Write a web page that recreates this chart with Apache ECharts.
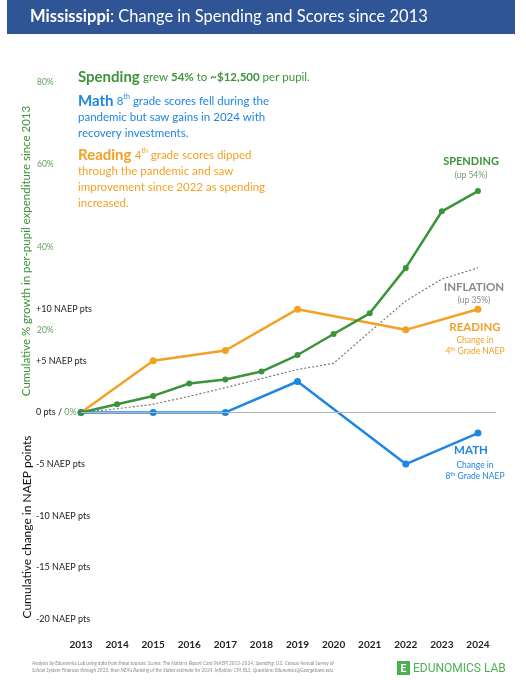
<!DOCTYPE html>
<html>
<head>
<meta charset="utf-8">
<script src="https://cdn.jsdelivr.net/npm/echarts@6/dist/echarts.min.js"></script>
<style>
  html, body { margin: 0; padding: 0; background: #fff; }
  #main { width: 526px; height: 680px; }
</style>
</head>
<body>
<div id="main"></div>
<script>
// data
var years = [2013, 2014, 2015, 2016, 2017, 2018, 2019, 2020, 2021, 2022, 2023, 2024];
var spending = [0, 2, 4, 7, 8, 9.9, 13.9, 19, 24, 35, 48.7, 53.6];
var inflation = [0, 0.9, 2, 3.9, 6, 8.2, 10.4, 11.9, 19.5, 27, 32.3, 35];
var naepYears = [2013, 2015, 2017, 2019, 2022, 2024];
var reading = [0, 5, 6, 10, 8, 10];
var math = [0, 0, 0, 3, -5, -2];
var pctTicks = [20, 40, 60, 80];
var naepTicks = [-20, -15, -10, -5, 0, 5, 10];

var GREEN = '#3a9439', ORANGE = '#f4a024', BLUE = '#1f85e3', GRAY = '#8a8a8a';
var FONT = 'Lato, "Noto Sans", sans-serif';

function pairs(xs, ys) {
  return xs.map(function (x, i) { return [x, ys[i]]; });
}

var myChart = echarts.init(document.getElementById('main'));

var option = {
  backgroundColor: '#fff',
  textStyle: { fontFamily: FONT },
  animation: false,
  grid: { left: 81, right: 30, top: 82, bottom: 61 },
  xAxis: {
    type: 'value', min: 2013, max: 2024.5, interval: 1,
    axisLine: { show: false }, axisTick: { show: false }, splitLine: { show: false },
    axisLabel: {
      margin: 21, fontSize: 10, fontWeight: 'bold', color: '#222',
      formatter: function (v) { return years.indexOf(v) >= 0 ? String(v) : ''; }
    }
  },
  yAxis: [
    {
      type: 'value', min: -50, max: 80, interval: 10, position: 'left',
      axisLine: { show: false }, axisTick: { show: false }, splitLine: { show: false },
      axisLabel: {
        align: 'left', margin: 44, fontSize: 8.5, color: '#5f9f5c',
        formatter: function (v) { return pctTicks.indexOf(v) >= 0 ? v + '%' : ''; }
      }
    },
    {
      type: 'value', min: -20, max: 32, interval: 5, position: 'left',
      axisLine: { show: false }, axisTick: { show: false }, splitLine: { show: false },
      axisLabel: {
        align: 'left', margin: 45, fontSize: 9, color: '#222',
        formatter: function (v) {
          if (naepTicks.indexOf(v) < 0) return '';
          if (v === 0) return '0 pts / {g|0%}';
          return (v > 0 ? '+' : '') + v + ' NAEP pts';
        },
        rich: { g: { color: '#5f9f5c', fontSize: 9 } }
      }
    }
  ],
  series: [
    {
      name: 'Inflation', type: 'line', yAxisIndex: 0, z: 1,
      data: pairs(years, inflation), showSymbol: false,
      lineStyle: { color: '#777', width: 1.2, type: [2, 2] },
      markLine: {
        silent: true, symbol: 'none', label: { show: false },
        lineStyle: { color: '#b5b5b5', type: 'solid', width: 1.2 },
        data: [{ yAxis: 0 }]
      }
    },
    {
      name: 'Spending', type: 'line', yAxisIndex: 0, z: 3,
      data: pairs(years, spending), symbol: 'circle', symbolSize: 6,
      lineStyle: { color: GREEN, width: 2.5 }, itemStyle: { color: GREEN }
    },
    {
      name: 'Reading', type: 'line', yAxisIndex: 1, z: 2,
      data: pairs(naepYears, reading), symbol: 'circle', symbolSize: 7,
      lineStyle: { color: ORANGE, width: 2.5 }, itemStyle: { color: ORANGE }
    },
    {
      name: 'Math', type: 'line', yAxisIndex: 1, z: 2,
      data: pairs(naepYears, math), symbol: 'circle', symbolSize: 7,
      lineStyle: { color: BLUE, width: 2.5 }, itemStyle: { color: BLUE }
    }
  ],
  graphic: [
    // title bar
    { type: 'rect', shape: { x: 7, y: 0, width: 508, height: 34 }, style: { fill: '#2f5597' } },
    {
      type: 'text', x: 30, y: 17,
      style: {
        text: '{b|Mississippi}{n|: Change in Spending and Scores since 2013}',
        verticalAlign: 'middle',
        rich: {
          b: { fontFamily: FONT, fontSize: 16.5, fontWeight: 'bold', fill: '#fff' },
          n: { fontFamily: FONT, fontSize: 16.5, fill: '#fff' }
        }
      }
    },
    // rotated axis names
    {
      type: 'text', x: 26, y: 251, rotation: Math.PI / 2,
      style: {
        text: 'Cumulative % growth in per-pupil expenditure since 2013',
        align: 'center', verticalAlign: 'middle',
        font: '11.5px ' + FONT, fill: GREEN
      }
    },
    {
      type: 'text', x: 27, y: 527, rotation: Math.PI / 2,
      style: {
        text: 'Cumulative change in NAEP points',
        align: 'center', verticalAlign: 'middle',
        font: '12px ' + FONT, fill: '#111'
      }
    },
    // annotation block
    {
      type: 'text', x: 78, y: 69,
      style: {
        text: '{h|Spending} {t|grew }{tb|54%}{t| to }{tb|~$12,500}{t| per pupil.}',
        verticalAlign: 'top',
        rich: {
          h: { fontFamily: FONT, fontSize: 15, fontWeight: 'bold', fill: GREEN, lineHeight: 16 },
          t: { fontFamily: FONT, fontSize: 11.5, fill: GREEN, lineHeight: 16 },
          tb: { fontFamily: FONT, fontSize: 11.5, fontWeight: 'bold', fill: GREEN, lineHeight: 16 }
        }
      }
    },
    {
      type: 'text', x: 78, y: 93,
      style: {
        text: '{h|Math} {t|8}{s|th}{t| grade scores fell during the}\n{t|pandemic but saw gains in 2024 with}\n{t|recovery investments.}',
        verticalAlign: 'top',
        rich: {
          h: { fontFamily: FONT, fontSize: 15, fontWeight: 'bold', fill: BLUE, lineHeight: 16 },
          t: { fontFamily: FONT, fontSize: 11.5, fill: BLUE, lineHeight: 16 },
          s: { fontFamily: FONT, fontSize: 7, fill: BLUE, verticalAlign: 'top', lineHeight: 16 }
        }
      }
    },
    {
      type: 'text', x: 78, y: 147,
      style: {
        text: '{h|Reading} {t|4}{s|th}{t| grade scores dipped}\n{t|through the pandemic and saw}\n{t|improvement since 2022 as spending}\n{t|increased.}',
        verticalAlign: 'top',
        rich: {
          h: { fontFamily: FONT, fontSize: 15, fontWeight: 'bold', fill: ORANGE, lineHeight: 16 },
          t: { fontFamily: FONT, fontSize: 11.5, fill: ORANGE, lineHeight: 16 },
          s: { fontFamily: FONT, fontSize: 7, fill: ORANGE, verticalAlign: 'top', lineHeight: 16 }
        }
      }
    },
    // right side series labels
    { type: 'text', x: 471, y: 161, style: { text: 'SPENDING', align: 'center', verticalAlign: 'middle', font: 'bold 11px ' + FONT, fill: GREEN } },
    { type: 'text', x: 471, y: 175, style: { text: '(up 54%)', align: 'center', verticalAlign: 'middle', font: '8.5px ' + FONT, fill: '#6f9a6c' } },
    { type: 'text', x: 474, y: 287, style: { text: 'INFLATION', align: 'center', verticalAlign: 'middle', font: 'bold 11.5px ' + FONT, fill: GRAY } },
    { type: 'text', x: 474, y: 300, style: { text: '(up 35%)', align: 'center', verticalAlign: 'middle', font: '8.5px ' + FONT, fill: GRAY } },
    { type: 'text', x: 475, y: 327, style: { text: 'READING', align: 'center', verticalAlign: 'middle', font: 'bold 11.5px ' + FONT, fill: ORANGE } },
    { type: 'text', x: 475, y: 340, style: { text: 'Change in', align: 'center', verticalAlign: 'middle', font: '8.5px ' + FONT, fill: ORANGE } },
    {
      type: 'text', x: 475, y: 351,
      style: {
        text: '{t|4}{s|th}{t| Grade NAEP}', align: 'center', verticalAlign: 'middle',
        rich: { t: { fontFamily: FONT, fontSize: 8.5, fill: ORANGE }, s: { fontFamily: FONT, fontSize: 5.5, fill: ORANGE, verticalAlign: 'top' } }
      }
    },
    { type: 'text', x: 471, y: 450, style: { text: 'MATH', align: 'center', verticalAlign: 'middle', font: 'bold 11.5px ' + FONT, fill: BLUE } },
    { type: 'text', x: 475, y: 465, style: { text: 'Change in', align: 'center', verticalAlign: 'middle', font: '8.5px ' + FONT, fill: BLUE } },
    {
      type: 'text', x: 475, y: 476,
      style: {
        text: '{t|8}{s|th}{t| Grade NAEP}', align: 'center', verticalAlign: 'middle',
        rich: { t: { fontFamily: FONT, fontSize: 8.5, fill: BLUE }, s: { fontFamily: FONT, fontSize: 5.5, fill: BLUE, verticalAlign: 'top' } }
      }
    },
    // footer
    {
      type: 'text', x: 32, y: 660,
      style: {
        text: "Analysis by Edunomics Lab using data from these sources: Scores: The Nation's Report Card (NAEP) 2013-2024. Spending: U.S. Census Annual Survey of\nSchool System Finances through 2023, then NEA's Ranking of the States estimate for 2024. Inflation: CPI, BLS. Questions: Edunomics@Georgetown.edu",
        verticalAlign: 'top', font: 'italic 4.8px ' + FONT, fill: '#8a8a8a', lineHeight: 7
      }
    },
    { type: 'rect', shape: { x: 397, y: 661, width: 13, height: 14 }, style: { fill: '#4caf50' } },
    { type: 'text', x: 403.5, y: 668.5, style: { text: 'E', align: 'center', verticalAlign: 'middle', font: 'bold 11px ' + FONT, fill: '#fff' } },
    { type: 'text', x: 413, y: 668.5, style: { text: 'EDUNOMICS LAB', verticalAlign: 'middle', font: '12px "Roboto", ' + FONT, fill: '#4caf50' } }
  ]
};

myChart.setOption(option);
</script>
</body>
</html>
